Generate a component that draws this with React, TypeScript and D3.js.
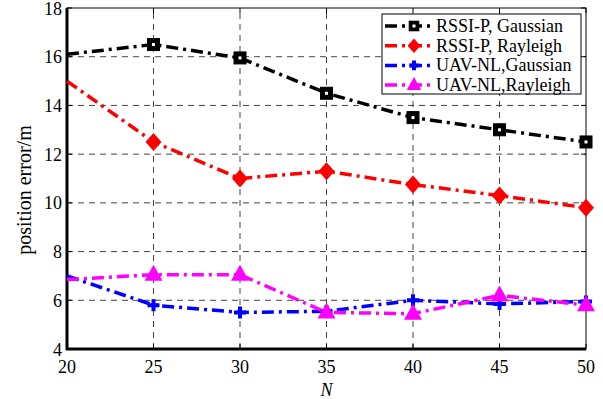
import { useEffect, useRef } from "react";
import * as d3 from "d3";

const nValues = [20, 25, 30, 35, 40, 45, 50];
const rssiGaussian = [16.1, 16.5, 15.95, 14.5, 13.5, 13.0, 12.5];
const rssiRayleigh = [15.0, 12.5, 11.0, 11.3, 10.75, 10.3, 9.8];
const uavGaussian = [7.0, 5.8, 5.5, 5.55, 6.0, 5.85, 5.95];
const uavRayleigh = [6.85, 7.05, 7.05, 5.5, 5.45, 6.2, 5.8];
const xTicks = [20, 25, 30, 35, 40, 45, 50];
const yTicks = [4, 6, 8, 10, 12, 14, 16, 18];

const seriesList = [
  { name: "RSSI-P, Gaussian", values: rssiGaussian, color: "#000000", marker: "square" },
  { name: "RSSI-P, Rayleigh", values: rssiRayleigh, color: "#ff0000", marker: "diamond" },
  { name: "UAV-NL,Gaussian", values: uavGaussian, color: "#0000ff", marker: "plus" },
  { name: "UAV-NL,Rayleigh", values: uavRayleigh, color: "#ff00ff", marker: "triangle" },
];

export default function App() {
  const svgRef = useRef<SVGSVGElement | null>(null);
  const width = 603;
  const height = 399;
  const margin = { top: 8, right: 17, bottom: 50, left: 67 };

  useEffect(() => {
    const svg = d3.select(svgRef.current);
    svg.selectAll("*").remove();

    const x = d3.scaleLinear().domain([20, 50]).range([margin.left, width - margin.right]);
    const y = d3.scaleLinear().domain([4, 18]).range([height - margin.bottom, margin.top]);
    const font = "'Liberation Serif', 'Times New Roman', serif";

    // grid
    const grid = svg.append("g").attr("stroke", "#444").attr("stroke-width", 1).attr("stroke-dasharray", "6,5");
    xTicks.slice(1, -1).forEach((t) => {
      grid.append("line").attr("x1", x(t)).attr("x2", x(t)).attr("y1", y(4)).attr("y2", y(18));
    });
    yTicks.slice(1, -1).forEach((t) => {
      grid.append("line").attr("x1", x(20)).attr("x2", x(50)).attr("y1", y(t)).attr("y2", y(t));
    });

    // box
    svg.append("rect")
      .attr("x", x(20)).attr("y", y(18))
      .attr("width", x(50) - x(20)).attr("height", y(4) - y(18))
      .attr("fill", "none").attr("stroke", "#000").attr("stroke-width", 1);

    // ticks inward
    const ticks = svg.append("g").attr("stroke", "#000").attr("stroke-width", 1);
    xTicks.forEach((t) => {
      ticks.append("line").attr("x1", x(t)).attr("x2", x(t)).attr("y1", y(4)).attr("y2", y(4) - 5);
      ticks.append("line").attr("x1", x(t)).attr("x2", x(t)).attr("y1", y(18)).attr("y2", y(18) + 5);
    });
    yTicks.forEach((t) => {
      ticks.append("line").attr("x1", x(20)).attr("x2", x(20) + 5).attr("y1", y(t)).attr("y2", y(t));
      ticks.append("line").attr("x1", x(50)).attr("x2", x(50) - 5).attr("y1", y(t)).attr("y2", y(t));
    });

    // thick left & bottom axes
    svg.append("line").attr("x1", x(20)).attr("x2", x(20)).attr("y1", y(18)).attr("y2", y(4) + 1)
      .attr("stroke", "#000").attr("stroke-width", 3);
    svg.append("line").attr("x1", x(20) - 1).attr("x2", x(50)).attr("y1", y(4)).attr("y2", y(4))
      .attr("stroke", "#000").attr("stroke-width", 3);

    // tick labels
    svg.append("g").selectAll("text").data(xTicks).join("text")
      .attr("x", (d) => x(d)).attr("y", y(4) + 24)
      .attr("text-anchor", "middle").attr("font-family", font).attr("font-size", 18)
      .text((d) => d);
    svg.append("g").selectAll("text").data(yTicks).join("text")
      .attr("x", x(20) - 5).attr("y", (d) => y(d) + 6.5)
      .attr("text-anchor", "end").attr("font-family", font).attr("font-size", 18)
      .text((d) => d);

    svg.append("text")
      .attr("x", (x(20) + x(50)) / 2).attr("y", 396)
      .attr("text-anchor", "middle").attr("font-family", font).attr("font-size", 18)
      .attr("font-style", "italic").text("N");
    svg.append("text")
      .attr("transform", "translate(31,190) rotate(-90)")
      .attr("text-anchor", "middle").attr("font-family", font).attr("font-size", 20)
      .text("position error/m");

    const drawMarker = (g: d3.Selection<SVGGElement, unknown, null, undefined>, kind: string, cx: number, cy: number, color: string, s = 1) => {
      if (kind === "square") {
        g.append("rect").attr("x", cx - 6 * s).attr("y", cy - 6 * s).attr("width", 12 * s).attr("height", 12 * s)
          .attr("fill", color).attr("stroke", color).attr("stroke-width", 1);
        g.append("rect").attr("x", cx - 1.5).attr("y", cy - 1.5).attr("width", 3).attr("height", 3).attr("fill", "#fff");
      } else if (kind === "diamond") {
        g.append("path").attr("d", `M${cx},${cy - 9 * s}L${cx + 8 * s},${cy}L${cx},${cy + 9 * s}L${cx - 8 * s},${cy}Z`)
          .attr("fill", color);
      } else if (kind === "plus") {
        g.append("path").attr("d", `M${cx - 6 * s},${cy}H${cx + 6 * s}M${cx},${cy - 6 * s}V${cy + 6 * s}`)
          .attr("stroke", color).attr("stroke-width", 4).attr("fill", "none");
      } else {
        g.append("path").attr("d", `M${cx},${cy - 10 * s}L${cx + 9 * s},${cy + 6 * s}L${cx - 9 * s},${cy + 6 * s}Z`)
          .attr("fill", color);
      }
    };

    const line = d3.line<number>().x((_, i) => x(nValues[i])).y((d) => y(d));
    const plot = svg.append("g");
    seriesList.forEach((s) => {
      plot.append("path").datum(s.values).attr("d", line)
        .attr("fill", "none").attr("stroke", s.color).attr("stroke-width", 3.5)
        .attr("stroke-dasharray", "12,5,3,5");
      const mg = plot.append("g");
      s.values.forEach((v, i) => {
        if (i === 0) return;
        drawMarker(mg, s.marker, x(nValues[i]), y(v), s.color);
      });
    });

    // legend
    const lx = 382, ly = 14;
    const legend = svg.append("g");
    legend.append("rect").attr("x", lx).attr("y", ly).attr("width", 199).attr("height", 80)
      .attr("fill", "#fff").attr("stroke", "#000").attr("stroke-width", 1);
    seriesList.forEach((s, i) => {
      const cy = ly + 12 + i * 19.7;
      legend.append("line").attr("x1", lx + 3).attr("x2", lx + 53).attr("y1", cy).attr("y2", cy)
        .attr("stroke", s.color).attr("stroke-width", 3.5).attr("stroke-dasharray", "12,5,3,5");
      const mg = legend.append("g");
      drawMarker(mg, s.marker, lx + 32, cy, s.color, 0.8);
      legend.append("text").attr("x", lx + 54).attr("y", cy + 6)
        .attr("font-family", font).attr("font-size", 18).text(s.name);
    });
  }, []);

  return (
    <svg ref={svgRef} width={width} height={height} style={{ position: "absolute", left: 0, top: 0, background: "#fff" }} />
  );
}
